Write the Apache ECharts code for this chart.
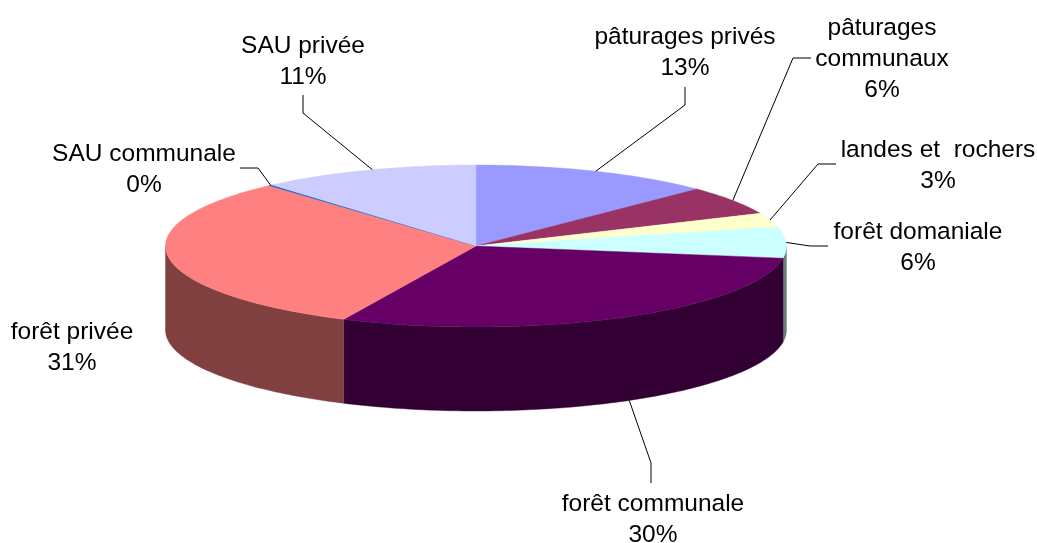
<!DOCTYPE html>
<html>
<head>
<meta charset="utf-8">
<title>Répartition</title>
<script src="https://cdn.jsdelivr.net/npm/echarts@6/dist/echarts.min.js"></script>
<style>
  html, body { margin: 0; padding: 0; background: #fff; overflow: hidden; }
  #chart { width: 1037px; height: 543px; }
</style>
</head>
<body>
<div id="chart"></div>
<script>
// values (share of the disc, in %)
const categories = ["pâturages privés", "pâturages\ncommunaux", "landes et  rochers", "forêt domaniale",
  "forêt communale", "forêt privée", "SAU communale", "SAU privée"];
const values = [12.6, 5.8, 2.8, 6.2, 29.6, 31.4, 0.2, 11.4];
const percentLabels = ["13%", "6%", "3%", "6%", "30%", "31%", "0%", "11%"];

const topColors = ["#9999FF", "#993366", "#FFFFCC", "#CCFFFF", "#660066", "#FF8080", "#0066CC", "#CCCCFF"];
const sideColors = ["#4D4D80", "#4D1A33", "#808066", "#668080", "#330033", "#804040", "#003366", "#666680"];

// disc geometry, pixels
const cx = 476, cy = 246, rx = 310.5, ry = 81, depth = 84;

// label centre, leader elbows (label side), nudge of the leader foot in degrees
const labelPos = [[685, 53], [882, 59], [938, 166], [918, 248], [653, 520], [72, 348], [144, 170], [303, 62]];
const leaderPts = [
  [[685, 105], [685, 87]],
  [[793, 58], [811, 58]],
  [[818, 164], [836, 164]],
  [[810, 246], [828, 246]],
  [[651, 463], [651, 483]],
  null,
  [[258, 168], [240, 168]],
  [[303, 113], [303, 95]]
];
const footNudge = [0, 0, 0, 0, -1.5, 0, 0, 1];

const total = values.reduce((a, b) => a + b, 0);
const starts = [];
values.reduce((sum, v, i) => { starts[i] = sum; return sum + v; }, 0);
const toDeg = v => v / total * 360;

// angle is clockwise from 12 o'clock
function rim(deg, drop) {
  const a = deg * Math.PI / 180;
  return [cx + rx * Math.sin(a), cy - ry * Math.cos(a) + (drop || 0)];
}

function arc(from, to, drop) {
  const pts = [];
  const n = Math.max(2, Math.ceil(Math.abs(to - from)));
  for (let i = 0; i <= n; i++) pts.push(rim(from + (to - from) * i / n, drop));
  return pts;
}

function renderSlice(params, api) {
  const i = api.value(0);
  const a0 = toDeg(starts[i]);
  const a1 = toDeg(starts[i] + values[i]);
  const children = [];

  // front wall, only the part of the rim turned to the viewer
  const w0 = Math.max(a0, 90), w1 = Math.min(a1, 270);
  if (w1 > w0) {
    children.push({
      type: "polygon",
      shape: { points: arc(w0, w1, 0).concat(arc(w1, w0, depth)) },
      style: { fill: sideColors[i], stroke: sideColors[i], lineWidth: 0.4 }
    });
  }

  children.push({
    type: "polygon",
    shape: { points: [[cx, cy]].concat(arc(a0, a1, 0)) },
    style: { fill: topColors[i], stroke: topColors[i], lineWidth: 0.4 }
  });

  if (leaderPts[i]) {
    const mid = (a0 + a1) / 2 + footNudge[i];
    const onFront = mid > 90 && mid < 270;
    children.push({
      type: "polyline",
      shape: { points: [rim(mid, onFront ? depth : 0)].concat(leaderPts[i]) },
      style: { fill: null, stroke: "#000", lineWidth: 1 }
    });
  }

  children.push({
    type: "text",
    x: labelPos[i][0],
    y: labelPos[i][1],
    style: {
      text: categories[i] + "\n" + percentLabels[i],
      fill: "#000",
      font: '24.5px "Liberation Sans", Arial, sans-serif',
      lineHeight: 31,
      align: "center",
      verticalAlign: "middle"
    }
  });

  return { type: "group", children: children };
}

const chart = echarts.init(document.getElementById("chart"), null, { renderer: "canvas" });
chart.setOption({
  animation: false,
  backgroundColor: "#fff",
  tooltip: { show: false },
  series: [{
    type: "custom",
    coordinateSystem: "none",
    silent: true,
    clip: false,
    data: values.map((v, i) => [i, v]),
    renderItem: renderSlice
  }]
});
</script>
</body>
</html>
